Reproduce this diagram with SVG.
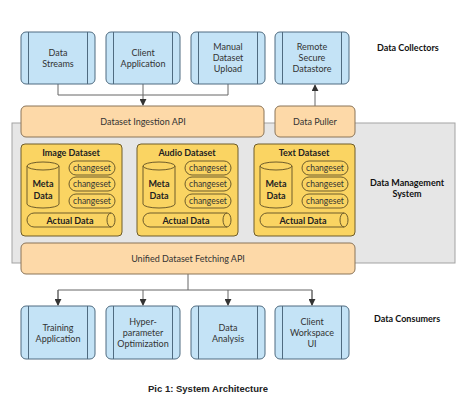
<svg xmlns="http://www.w3.org/2000/svg" width="474" height="406" viewBox="0 0 474 406">
<defs>
<style>
.bg{fill:#e6e6e6;stroke:#a3a3a3;stroke-width:1}
.blue{fill:#c4e3f6;stroke:#4f6b80;stroke-width:1}
.bl{stroke:#4f6b80;stroke-width:1}
.org{fill:#fdd9a8;stroke:#8a7459;stroke-width:1}
.yel{fill:#fad462;stroke:#6e5c2a;stroke-width:1}
.yl{fill:none;stroke:#6e5c2a;stroke-width:1}
.t{font-family:Lato,"Liberation Sans",sans-serif;font-size:9px;fill:#333;text-anchor:middle}
.cs{font-family:Lato,"Liberation Sans",sans-serif;font-size:8.5px;fill:#333;text-anchor:middle}
.tb{font-family:Lato,"Liberation Sans",sans-serif;font-size:9px;fill:#222;font-weight:bold;text-anchor:middle}
.lab{font-family:Lato,"Liberation Sans",sans-serif;font-size:9px;fill:#111;font-weight:bold}
.cap{font-family:"Liberation Sans",Arial,sans-serif;font-size:9.5px;fill:#222;font-weight:bold}
.con{fill:none;stroke:#666;stroke-width:1}
</style>
<marker id="ah" viewBox="0 0 8 8" refX="7" refY="4" markerWidth="7" markerHeight="7" markerUnits="userSpaceOnUse" orient="auto">
<path d="M0,0 L8,4 L0,8 z" fill="#333"/>
</marker>
</defs>
<rect width="474" height="406" fill="#fff"/>

<g id="dms-bg"><rect class="bg" x="12" y="123" width="443" height="140"/></g>

<g id="connectors">
<path class="con" d="M58,84 V95 H228 V84"/>
<path class="con" d="M143,84 V105" marker-end="url(#ah)"/>
<path class="con" d="M315,106 V85" marker-end="url(#ah)"/>
<path class="con" d="M188,274 V290"/>
<path class="con" d="M58,305 V290 H312 V305"/>
<path class="con" d="M58,290 V305" marker-end="url(#ah)"/>
<path class="con" d="M143,290 V305" marker-end="url(#ah)"/>
<path class="con" d="M228,290 V305" marker-end="url(#ah)"/>
<path class="con" d="M312,290 V305" marker-end="url(#ah)"/>
</g>

<g id="data-streams">
<rect class="blue" x="21" y="32" width="74" height="52" rx="5"/>
<path class="bl" d="M28.5,32 V84 M87.5,32 V84"/>
<text class="t" x="58" y="56">Data</text><text class="t" x="58" y="67">Streams</text>
</g>
<g id="client-application">
<rect class="blue" x="106" y="32" width="74" height="52" rx="5"/>
<path class="bl" d="M113.5,32 V84 M172.5,32 V84"/>
<text class="t" x="143" y="56">Client</text><text class="t" x="143" y="67">Application</text>
</g>
<g id="manual-upload">
<rect class="blue" x="191" y="32" width="74" height="52" rx="5"/>
<path class="bl" d="M198.5,32 V84 M257.5,32 V84"/>
<text class="t" x="228" y="50">Manual</text><text class="t" x="228" y="61">Dataset</text><text class="t" x="228" y="72">Upload</text>
</g>
<g id="remote-datastore">
<rect class="blue" x="275" y="32" width="74" height="52" rx="5"/>
<path class="bl" d="M282.5,32 V84 M341.5,32 V84"/>
<text class="t" x="312" y="50">Remote</text><text class="t" x="312" y="61">Secure</text><text class="t" x="312" y="72">Datastore</text>
</g>

<g id="ingestion-api">
<rect class="org" x="21" y="106" width="243" height="31" rx="5"/>
<text class="t" x="143" y="125">Dataset Ingestion API</text>
</g>
<g id="data-puller">
<rect class="org" x="275" y="106" width="80" height="31" rx="5"/>
<text class="t" x="315" y="125">Data Puller</text>
</g>

<g id="image-dataset">
<rect class="yel" x="21" y="144" width="101" height="92" rx="4"/>
<text class="tb" x="71" y="156">Image Dataset</text>
<path class="yl" d="M27,166 V204 A16,4 0 0 0 59,204 V166 A16,4 0 0 0 27,166 A16,4 0 0 0 59,166"/>
<text class="tb" x="43" y="187">Meta</text><text class="tb" x="43" y="199">Data</text>
<rect class="yl" x="69" y="161" width="46" height="14" rx="7"/><text class="cs" x="92" y="171">changeset</text>
<rect class="yl" x="69" y="177" width="46" height="14" rx="7"/><text class="cs" x="92" y="187">changeset</text>
<rect class="yl" x="69" y="194" width="46" height="14" rx="7"/><text class="cs" x="92" y="204">changeset</text>
<path class="yl" d="M34,213 H111 A4,7 0 0 1 111,227 H34 A7,7 0 0 1 34,213 Z M111,213 A4,7 0 0 0 111,227"/>
<text class="tb" x="70" y="224">Actual Data</text>
</g>
<g id="audio-dataset">
<rect class="yel" x="137" y="144" width="101" height="92" rx="4"/>
<text class="tb" x="187" y="156">Audio Dataset</text>
<path class="yl" d="M143,166 V204 A16,4 0 0 0 175,204 V166 A16,4 0 0 0 143,166 A16,4 0 0 0 175,166"/>
<text class="tb" x="159" y="187">Meta</text><text class="tb" x="159" y="199">Data</text>
<rect class="yl" x="185" y="161" width="46" height="14" rx="7"/><text class="cs" x="208" y="171">changeset</text>
<rect class="yl" x="185" y="177" width="46" height="14" rx="7"/><text class="cs" x="208" y="187">changeset</text>
<rect class="yl" x="185" y="194" width="46" height="14" rx="7"/><text class="cs" x="208" y="204">changeset</text>
<path class="yl" d="M150,213 H227 A4,7 0 0 1 227,227 H150 A7,7 0 0 1 150,213 Z M227,213 A4,7 0 0 0 227,227"/>
<text class="tb" x="186" y="224">Actual Data</text>
</g>
<g id="text-dataset">
<rect class="yel" x="254" y="144" width="101" height="92" rx="4"/>
<text class="tb" x="304" y="156">Text Dataset</text>
<path class="yl" d="M260,166 V204 A16,4 0 0 0 292,204 V166 A16,4 0 0 0 260,166 A16,4 0 0 0 292,166"/>
<text class="tb" x="276" y="187">Meta</text><text class="tb" x="276" y="199">Data</text>
<rect class="yl" x="302" y="161" width="46" height="14" rx="7"/><text class="cs" x="325" y="171">changeset</text>
<rect class="yl" x="302" y="177" width="46" height="14" rx="7"/><text class="cs" x="325" y="187">changeset</text>
<rect class="yl" x="302" y="194" width="46" height="14" rx="7"/><text class="cs" x="325" y="204">changeset</text>
<path class="yl" d="M267,213 H344 A4,7 0 0 1 344,227 H267 A7,7 0 0 1 267,213 Z M344,213 A4,7 0 0 0 344,227"/>
<text class="tb" x="303" y="224">Actual Data</text>
</g>

<g id="unified-api">
<rect class="org" x="21" y="243" width="334" height="31" rx="5"/>
<text class="t" x="188" y="262">Unified Dataset Fetching API</text>
</g>

<g id="training-app">
<rect class="blue" x="21" y="306" width="74" height="53" rx="5"/>
<path class="bl" d="M28.5,306 V359 M87.5,306 V359"/>
<text class="t" x="58" y="331">Training</text><text class="t" x="58" y="342">Application</text>
</g>
<g id="hyperparameter">
<rect class="blue" x="106" y="306" width="74" height="53" rx="5"/>
<path class="bl" d="M113.5,306 V359 M172.5,306 V359"/>
<text class="t" x="143" y="325">Hyper-</text><text class="t" x="143" y="336">parameter</text><text class="t" x="143" y="347">Optimization</text>
</g>
<g id="data-analysis">
<rect class="blue" x="191" y="306" width="74" height="53" rx="5"/>
<path class="bl" d="M198.5,306 V359 M257.5,306 V359"/>
<text class="t" x="228" y="331">Data</text><text class="t" x="228" y="342">Analysis</text>
</g>
<g id="client-workspace">
<rect class="blue" x="275" y="306" width="74" height="53" rx="5"/>
<path class="bl" d="M282.5,306 V359 M341.5,306 V359"/>
<text class="t" x="312" y="325">Client</text><text class="t" x="312" y="336">Workspace</text><text class="t" x="312" y="347">UI</text>
</g>

<g id="labels">
<text class="lab" x="377" y="51">Data Collectors</text>
<text class="lab" x="407" y="186" text-anchor="middle">Data Management</text>
<text class="lab" x="407" y="197" text-anchor="middle">System</text>
<text class="lab" x="374" y="322">Data Consumers</text>
<text class="cap" x="148" y="392">Pic 1: System Architecture</text>
</g>
</svg>
